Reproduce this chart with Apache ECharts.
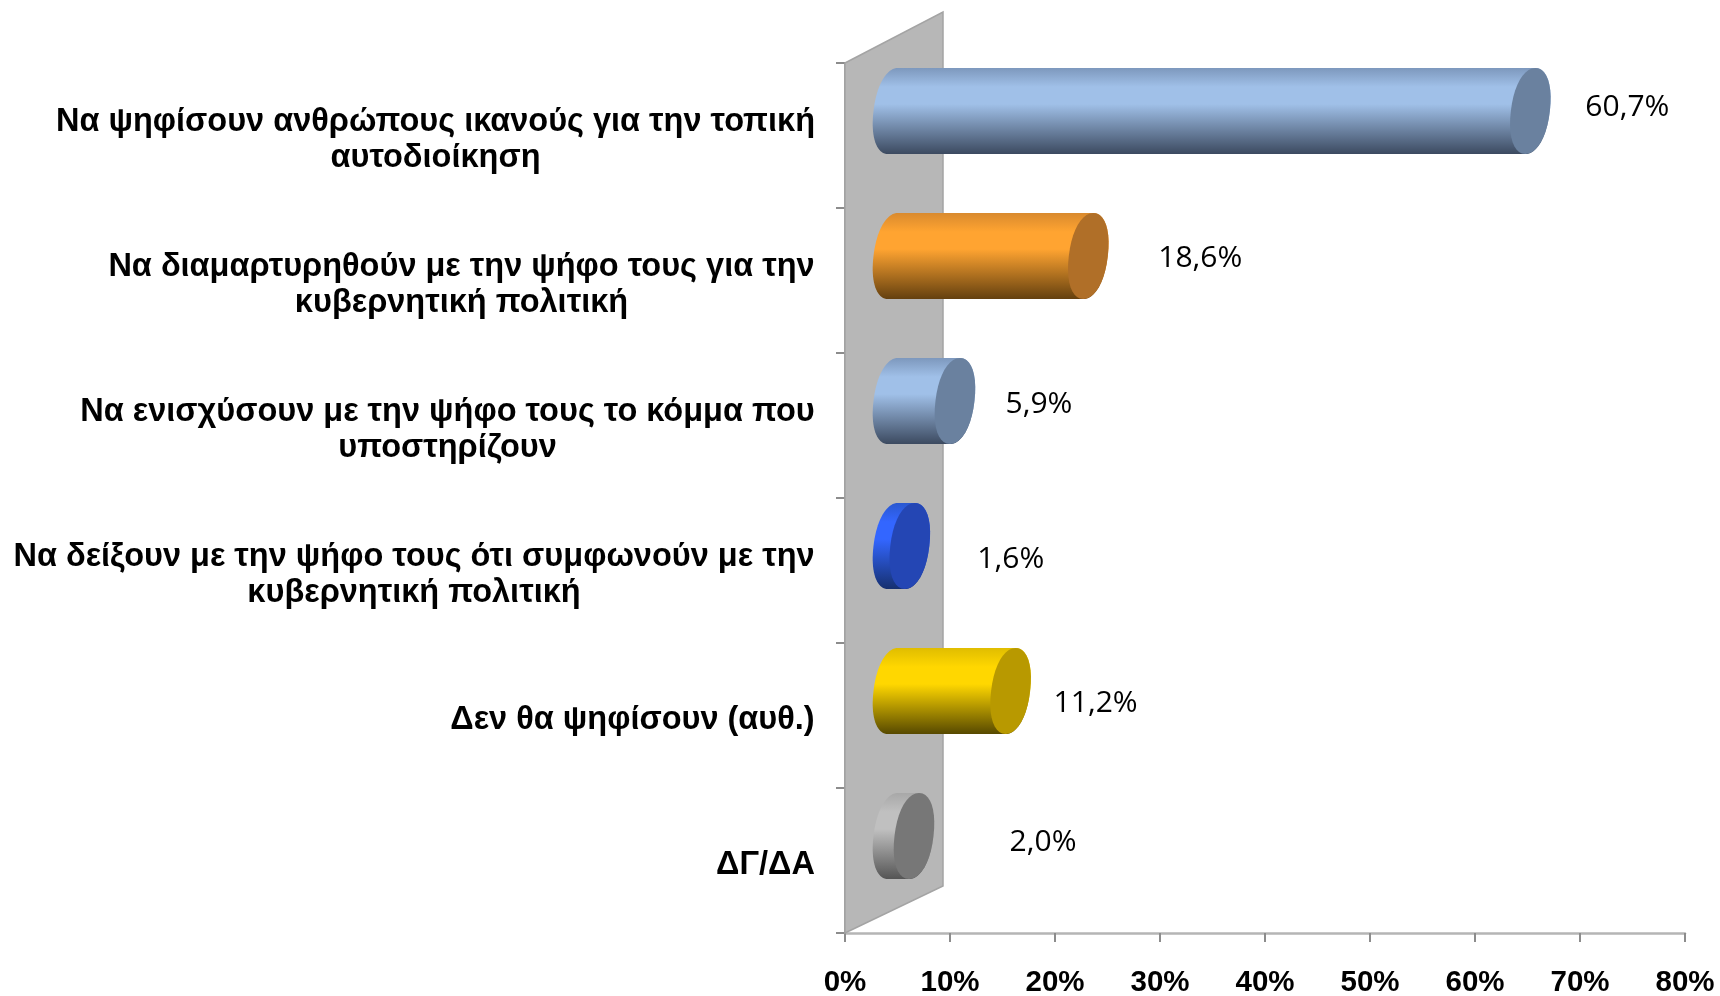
<!DOCTYPE html>
<html>
<head>
<meta charset="UTF-8">
<title>chart</title>
<style>
html,body{margin:0;padding:0;background:#fff;}
#chart{width:1720px;height:996px;}
</style>
</head>
<body>
<div id="chart"></div>
<script src="https://cdn.jsdelivr.net/npm/echarts@6/dist/echarts.min.js"></script>
<script>
var categories = [
	'Να ψηφίσουν ανθρώπους ικανούς για την τοπική\nαυτοδιοίκηση',
	'Να διαμαρτυρηθούν με την ψήφο τους για την\nκυβερνητική πολιτική',
	'Να ενισχύσουν με την ψήφο τους το κόμμα που\nυποστηρίζουν',
	'Να δείξουν με την ψήφο τους ότι συμφωνούν με την\nκυβερνητική πολιτική',
	'Δεν θα ψηφίσουν (αυθ.)',
	'ΔΓ/ΔΑ'
];
var values = [60.7, 18.6, 5.9, 1.6, 11.2, 2.0];
var valueLabels = ['60,7%', '18,6%', '5,9%', '1,6%', '11,2%', '2,0%'];

// colours per bar: top edge, highlight, bottom edge, end cap
var barColors = [
	['#7d98bd', '#a0c0e8', '#3c4a60', '#6a819f'],
	['#d98a2e', '#ffa431', '#64400f', '#b06f28'],
	['#7d98bd', '#a0c0e8', '#3c4a60', '#6a819f'],
	['#2a58d0', '#3366ff', '#16306f', '#2446b4'],
	['#e0bd00', '#ffd700', '#574900', '#b89900'],
	['#a8a8a8', '#c0c0c0', '#555555', '#777777']
];
// hand placed labels, the way they were dragged in the original
var labelShift = [[97, -4], [112, 2], [84, 3], [101, 13], [85, 12], [129, 6]];

var depthX = 48, depthY = -24.5, radiusY = 43, radiusX = 19.5, shear = 5;
var wallX = 98, wallTop = -51, wallBottom = -47;

// slightly squared ellipse, the caps in the picture are fuller than a true one
function soft(v) {
	return (v < 0 ? -1 : 1) * Math.pow(Math.abs(v), 0.93);
}

function ellipsePoints(cx, cy, from, to) {
	var pts = [];
	for (var i = 0; i <= 40; i++) {
		var t = from + (to - from) * i / 40;
		var s = soft(Math.sin(t));
		pts.push([cx + radiusX * soft(Math.cos(t)) - shear * s, cy + radiusY * s]);
	}
	return pts;
}

function renderBar(params, api) {
	var i = api.value(1);
	var base = api.coord([0, i]);
	var end = api.coord([api.value(0), i]);
	var y = base[1] + depthY;
	var x0 = base[0] + depthX;
	var x1 = end[0] + depthX;
	var c = barColors[i];
	// left half of the rear ellipse, then back along the front ellipse
	var body = ellipsePoints(x0, y, Math.PI / 2, Math.PI * 1.5)
		.concat(ellipsePoints(x1, y, -Math.PI / 2, Math.PI / 2));
	return {
		type: 'group',
		children: [{
			type: 'polygon',
			shape: { points: body },
			style: {
				fill: new echarts.graphic.LinearGradient(0, 0, 0, 1, [
					{ offset: 0, color: c[0] },
					{ offset: 0.22, color: c[1] },
					{ offset: 0.42, color: c[1] },
					{ offset: 1, color: c[2] }
				])
			}
		}, {
			type: 'polygon',
			shape: { points: ellipsePoints(x1, y, 0, Math.PI * 2) },
			style: { fill: c[3] }
		}, {
			type: 'text',
			style: {
				text: valueLabels[i],
				x: x1 + labelShift[i][0],
				y: y + labelShift[i][1],
				align: 'center',
				verticalAlign: 'middle',
				fill: '#000',
				font: '30px "Open Sans"'
			}
		}]
	};
}

function renderWall(params, api) {
	var r = params.coordSys;
	return {
		type: 'polygon',
		shape: { points: [
			[r.x, r.y],
			[r.x + wallX, r.y + wallTop],
			[r.x + wallX, r.y + r.height + wallBottom],
			[r.x, r.y + r.height]
		] },
		style: { fill: '#b7b7b7', stroke: '#a4a4a4', lineWidth: 1.5 }
	};
}

// axis labels are centred on their own block and the block sits right against the axis
var labelSize = 32.5, labelFamily = 'Liberation Sans';
var measure = document.createElement('canvas').getContext('2d');
measure.font = 'bold ' + labelSize + 'px "' + labelFamily + '"';
var rich = {};
categories.forEach(function(name, i) {
	var widest = 0;
	name.split('\n').forEach(function(line) {
		widest = Math.max(widest, measure.measureText(line).width);
	});
	rich['c' + i] = {
		width: Math.ceil(widest),
		align: 'center',
		lineHeight: 36,
		fontFamily: labelFamily,
		fontWeight: 'bold',
		fontSize: labelSize,
		color: '#000'
	};
});

var myChart = echarts.init(document.getElementById('chart'));
myChart.setOption({
	animation: false,
	grid: { left: 845, top: 63, width: 840, height: 870, containLabel: false, outerBoundsMode: 'none' },
	xAxis: {
		type: 'value',
		min: 0,
		max: 80,
		interval: 10,
		splitLine: { show: false },
		axisLine: { show: true, lineStyle: { color: '#b5b5b5', width: 2.5 } },
		axisTick: { show: true, length: 9, lineStyle: { color: '#8c8c8c', width: 2 } },
		axisLabel: {
			margin: 35,
			color: '#000',
			fontFamily: 'Liberation Sans',
			fontWeight: 'bold',
			fontSize: 29.5,
			formatter: '{value}%',
			hideOverlap: false
		}
	},
	yAxis: {
		type: 'category',
		inverse: true,
		data: categories,
		axisLine: { show: true, lineStyle: { color: '#9c9c9c', width: 2 } },
		axisTick: { show: true, length: 9, alignWithLabel: false, lineStyle: { color: '#8c8c8c', width: 2 } },
		axisLabel: {
			interval: 0,
			margin: 30,
			align: 'right',
			padding: [10, 0, 0, 0],
			rich: rich,
			formatter: function(name, i) {
				return name.split('\n').map(function(line) {
					return '{c' + i + '|' + line + '}';
				}).join('\n');
			}
		}
	},
	series: [{
		type: 'custom',
		coordinateSystem: 'cartesian2d',
		clip: false,
		z: 1,
		renderItem: renderWall,
		data: [[0, 0]],
		encode: { x: 0, y: 1 }
	}, {
		type: 'custom',
		coordinateSystem: 'cartesian2d',
		clip: false,
		z: 5,
		renderItem: renderBar,
		data: values.map(function(v, i) { return [v, i]; }),
		encode: { x: 0, y: 1 }
	}]
});
</script>
</body>
</html>
